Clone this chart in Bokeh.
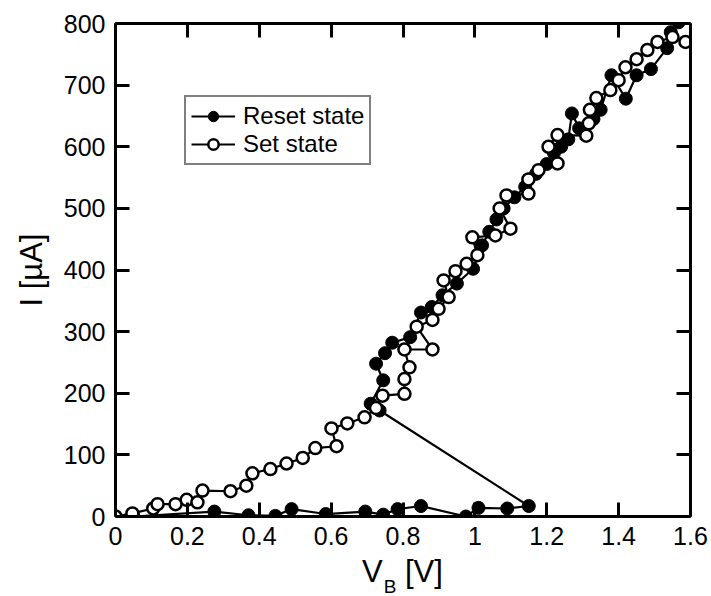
import math
from bokeh.plotting import figure
from bokeh.models import (Range1d, LinearAxis, FixedTicker, NumeralTickFormatter,
                          Legend, LegendItem, Div)
from bokeh.layouts import column
from bokeh.embed import file_html
from bokeh.resources import INLINE

# ---- data ----
reset_v = [0.0, 0.05, 0.275, 0.37, 0.445, 0.49, 0.585, 0.695, 0.745, 0.785, 0.85,
           0.975, 1.01, 1.09, 1.15,
           0.735, 0.71, 0.745, 0.725, 0.75, 0.77, 0.82, 0.85, 0.88, 0.91, 0.95,
           0.995, 1.02, 1.04, 1.06, 1.08, 1.11, 1.14, 1.17, 1.2, 1.22, 1.24,
           1.26, 1.27, 1.29, 1.33, 1.35, 1.38, 1.42, 1.45, 1.49, 1.535, 1.545, 1.567]
reset_i = [0, 0, 8, 2, 1, 12, 4, 8, 3, 12, 17,
           0, 14, 13, 17,
           172, 183, 221, 248, 265, 282, 291, 331, 340, 359, 378,
           402, 440, 462, 482, 500, 518, 535, 556, 572, 590, 600,
           612, 654, 630, 645, 660, 716, 678, 716, 726, 760, 786, 802]

set_v = [0.0, 0.047, 0.105, 0.117, 0.167, 0.198, 0.228, 0.242, 0.32, 0.364, 0.381,
         0.431, 0.476, 0.521, 0.556, 0.615, 0.601, 0.645, 0.693, 0.725, 0.743,
         0.804, 0.804, 0.818, 0.804, 0.882, 0.838, 0.882, 0.899, 0.927, 0.913,
         0.946, 0.977, 1.007, 0.993, 1.057, 1.099, 1.069, 1.088, 1.149, 1.149,
         1.177, 1.23, 1.205, 1.23, 1.31, 1.317, 1.32, 1.338, 1.377, 1.40, 1.419,
         1.45, 1.48, 1.508, 1.55, 1.586]
set_i = [0, 5, 13, 20, 20, 27, 23, 42, 41, 50, 70,
         77, 86, 95, 111, 114, 143, 151, 161, 176, 196,
         199, 223, 242, 271, 271, 308, 319, 337, 356, 383,
         398, 410, 424, 453, 456, 467, 500, 521, 524, 547,
         562, 573, 600, 619, 618, 638, 660, 679, 692, 708, 729,
         742, 757, 770, 778, 770]

x_ticks = [0, 0.2, 0.4, 0.6, 0.8, 1.0, 1.2, 1.4, 1.6]
y_ticks = [0, 100, 200, 300, 400, 500, 600, 700, 800]

FONT = "Liberation Sans"

p = figure(width=708, height=558, output_backend="svg", toolbar_location=None,
           x_range=Range1d(0, 1.6), y_range=Range1d(0, 800),
           min_border_left=115, min_border_right=18, min_border_top=23,
           min_border_bottom=42, x_axis_type=None, y_axis_type=None)
p.outline_line_color = None
p.grid.visible = False
p.background_fill_color = "white"
p.border_fill_color = "white"


def style_axis(ax, ticks, show_labels):
    ax.ticker = FixedTicker(ticks=ticks)
    ax.formatter = NumeralTickFormatter(format="0.[0]")
    ax.axis_line_width = 3
    ax.axis_line_color = "black"
    ax.major_tick_line_width = 3
    ax.major_tick_line_color = "black"
    ax.major_tick_in = 14
    ax.major_tick_out = 0
    ax.minor_tick_line_color = None
    ax.major_label_text_font = FONT
    if show_labels:
        ax.major_label_text_color = "black"
        ax.major_label_text_font_size = "25px"
        ax.major_label_standoff = 10
    else:
        ax.major_label_text_color = None
        ax.major_label_text_font_size = "1px"
        ax.major_label_standoff = 0


xb = LinearAxis(); style_axis(xb, x_ticks, True); p.add_layout(xb, "below")
yl = LinearAxis(); style_axis(yl, y_ticks, True)
yl.axis_label = "I [\u00b5A]"
yl.axis_label_text_font = FONT
yl.axis_label_text_font_size = "31px"
yl.axis_label_text_font_style = "normal"
yl.axis_label_text_color = "black"
yl.axis_label_standoff = 12
p.add_layout(yl, "left")
xt = LinearAxis(); style_axis(xt, x_ticks, False); p.add_layout(xt, "above")
yr = LinearAxis(); style_axis(yr, y_ticks, False); p.add_layout(yr, "right")

# ---- series ----
r_line = p.line(reset_v, reset_i, line_color="black", line_width=2.2)
r_pts = p.scatter(reset_v, reset_i, marker="circle", size=13, fill_color="black",
                  line_color="black", line_width=1)
s_line = p.line(set_v, set_i, line_color="black", line_width=2.2)
s_pts = p.scatter(set_v, set_i, marker="circle", size=12, fill_color="white",
                  line_color="black", line_width=2.5)

legend = Legend(items=[LegendItem(label="Reset state", renderers=[r_line, r_pts]),
                       LegendItem(label="Set state", renderers=[s_line, s_pts])],
                location=(69, 351), margin=0, padding=5, spacing=0,
                glyph_width=44, glyph_height=26, label_height=26, label_standoff=8,
                label_text_font=FONT, label_text_font_size="24px",
                label_text_color="black",
                border_line_color="black", border_line_width=2.5,
                background_fill_color="white", background_fill_alpha=1)
p.add_layout(legend, "center")

# ---- x axis title with subscript ----
xtitle = Div(
    text=('<div style="position:relative; top:-2px; padding-left:362px; '
          'font-family:\'Liberation Sans\'; font-size:31px; line-height:31px; '
          'color:black; white-space:nowrap;">V<span style="font-size:19px; '
          'position:relative; top:11px; margin-left:1px;">B</span>&nbsp;[V]</div>'),
    width=708, height=36, margin=(0, 0, 0, 0))

layout = column(p, xtitle, spacing=0)
open("out.html", "w").write(file_html(layout, INLINE))
